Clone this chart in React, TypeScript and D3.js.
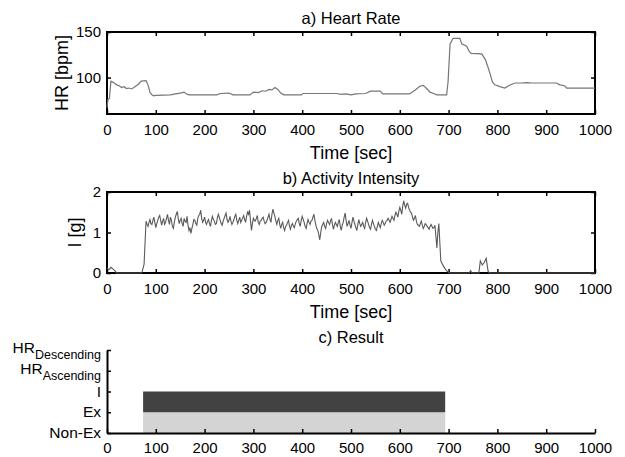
import React, { useRef, useEffect } from 'react';
import * as d3 from 'd3';

// heart rate [sec, bpm], read off panel a)
const hrData: [number, number][] = [
    [0, 67], [2, 76], [5, 77], [8, 96], [12, 95], [16, 93.5], [20, 92], [25, 91], [30, 89],
    [35, 90], [40, 88], [45, 88.5], [50, 87.5], [55, 89], [60, 91], [65, 93], [70, 96],
    [80, 96.5], [84, 92], [88, 84], [92, 81], [96, 80], [100, 80.5], [130, 81], [140, 82],
    [150, 83], [158, 84], [163, 82], [168, 81], [225, 81], [232, 82.5], [250, 83], [258, 81],
    [293, 81], [300, 84], [310, 83.5], [318, 85.5], [325, 85], [332, 87], [338, 86.5],
    [344, 89], [350, 87], [356, 83], [362, 81], [398, 81], [402, 82.5], [470, 82.5],
    [480, 81.5], [490, 82], [500, 81], [510, 82], [530, 82.5], [540, 85], [560, 85],
    [565, 82], [620, 82], [631, 86], [641, 90.5], [648, 91.4], [655, 88], [662, 84],
    [669, 82.5], [676, 81], [696, 81], [699, 96], [703, 137], [709, 143], [723, 143],
    [727, 137], [737, 134.5], [742, 129], [746, 126.5], [768, 126], [775, 120], [781, 111],
    [785, 104], [790, 95], [795, 92], [805, 90], [815, 88.5], [825, 91.5], [836, 94],
    [850, 94], [860, 94.5], [870, 94], [921, 94], [928, 92], [938, 91], [942, 88.5], [1000, 88.5]
];

// activity intensity [g], every 4 sec from 80 to 676 sec
const intensityStart = 80;
const intensityStep = 4;
const intensityActive = [
    1.28, 1.15, 1.32, 1.2, 1.38, 1.12, 1.3, 1.42, 1.18, 1.35, 1.25, 1.45, 1.2, 1.3, 1.1, 1.38, 1.52, 1.22, 1.35, 1.15, 1.28, 1.4, 1.05, 0.98, 1.2,
    1.3, 1.18, 1.42, 1.55, 1.25, 1.38, 1.2, 1.32, 1.15, 1.4, 1.28, 1.22, 1.45, 1.3, 1.18, 1.35, 1.48, 1.25, 1.4, 1.2, 1.32, 1.45, 1.22, 1.38, 1.3,
    1.42, 1.25, 1.5, 1.55, 1.05, 1.35, 1.28, 1.42, 1.2, 1.3, 1.38, 1.22, 1.3, 1.45, 1.25, 1.58, 1.4, 1.2, 1.35, 1.1, 1.25, 1.05, 1.18, 1.3, 1.08,
    1.22, 1.12, 1.28, 1.35, 1.15, 1.4, 1.25, 1.1, 1.32, 1.2, 1.3, 1.45, 1.18, 1.05, 0.82, 1.15, 1.25, 1.1, 1.3, 1.2, 1.35, 1.08, 1.25, 1.15, 1.32,
    1.05, 1.25, 1.48, 1.15, 1.3, 1.1, 1.38, 1.2, 1.05, 1.32, 1.15, 1.25, 1.1, 1.35, 1.2, 1.08, 1.3, 1.15, 1.05, 1.25, 1.12, 1.3, 1.18, 1.28, 1.35,
    1.25, 1.4, 1.3, 1.5, 1.38, 1.62, 1.45, 1.78, 1.6, 1.72, 1.55, 1.48, 1.3, 1.42, 1.2, 1.15, 1.28, 1.1, 1.22, 1.15, 1.08, 1.2, 1.1, 1.18, 0.62
];
// the samples in between, 82 to 678 sec
const intensityActiveMid = [
    1.2, 1.25, 1.22, 1.3, 1.25, 1.22, 1.38, 1.3, 1.28, 1.2, 1.35, 1.3, 1.38, 1.15, 1.25, 1.45, 1.35, 1.3, 1.22, 1.35, 1.25, 1.18, 1.12, 1.1, 1.32,
    1.22, 1.35, 1.45, 1.35, 1.3, 1.25, 1.28, 1.22, 1.3, 1.32, 1.2, 1.35, 1.38, 1.22, 1.28, 1.42, 1.32, 1.3, 1.28, 1.25, 1.4, 1.3, 1.3, 1.25, 1.36,
    1.32, 1.4, 1.45, 1.3, 1.22, 1.3, 1.35, 1.25, 1.28, 1.35, 1.28, 1.25, 1.38, 1.32, 1.45, 1.48, 1.28, 1.3, 1.2, 1.2, 1.12, 1.15, 1.25, 1.15, 1.18,
    1.15, 1.22, 1.32, 1.22, 1.3, 1.32, 1.15, 1.22, 1.25, 1.28, 1.38, 1.3, 1.1, 0.95, 1.0, 1.2, 1.15, 1.22, 1.25, 1.28, 1.2, 1.18, 1.2, 1.25, 1.15,
    1.18, 1.38, 1.3, 1.22, 1.18, 1.25, 1.28, 1.12, 1.2, 1.22, 1.2, 1.15, 1.25, 1.28, 1.12, 1.2, 1.22, 1.08, 1.15, 1.18, 1.22, 1.25, 1.22, 1.3, 1.3,
    1.32, 1.35, 1.42, 1.45, 1.52, 1.55, 1.65, 1.68, 1.7, 1.62, 1.5, 1.38, 1.35, 1.28, 1.18, 1.22, 1.18, 1.15, 1.2, 1.12, 1.15, 1.15, 1.12, 0.9, 1.0
];
// the quiet parts [sec, g]
const intensityRest: [number, number][] = [
    [0, 0.12], [4, 0.08], [8, 0.14], [12, 0.1], [16, 0.06], [20, 0], [70, 0], [72, 0.03], [76, 0.22],
    [680, 1.22], [684, 0.3], [688, 0.2], [692, 0.12], [696, 0.05], [702, 0], [742, 0], [745, 0.06],
    [748, 0], [762, 0], [765, 0.3], [769, 0.2], [773, 0.26], [777, 0.36], [781, 0.04], [784, 0], [1000, 0]
];

const resultLevels = ['Non-Ex', 'Ex', 'I', 'HR|Ascending', 'HR|Descending'];
// detected states: level index the block reaches up to
const resultBlocks = [
    { start: 74, end: 693, level: 1 },
    { start: 74, end: 693, level: 2 }
];

const timeTicks = [0, 100, 200, 300, 400, 500, 600, 700, 800, 900, 1000];
const hrTicks = [100, 150];
const intensityTicks = [0, 1, 2];

const font = '"Liberation Sans", Arial, sans-serif';
const fmt = d3.format('d');

const App = () => {
    const ref = useRef<SVGSVGElement>(null);

    useEffect(() => {
        const svg = d3.select(ref.current);
        svg.selectAll('*').remove();

        const left = 107, right = 595;
        const x = d3.scaleLinear().domain([0, 1000]).range([left, right]);

        const boxPanel = (top: number, bottom: number, y: d3.ScaleLinear<number, number>, yTicks: number[], title: string, titleY: number, ylabel: string, ylabelX: number) => {
            const g = svg.append('g');
            g.append('text').attr('x', (left + right) / 2).attr('y', titleY)
                .attr('text-anchor', 'middle').style('font-size', '16.5px').text(title);

            g.append('g').attr('transform', `translate(0,${bottom})`)
                .call(d3.axisBottom(x).tickValues(timeTicks).tickFormat(fmt).tickSize(-4).tickSizeOuter(0).tickPadding(10));
            g.append('g').attr('transform', `translate(0,${top})`)
                .call(d3.axisTop(x).tickValues(timeTicks).tickSize(-4).tickSizeOuter(0).tickFormat(() => ''));
            g.append('g').attr('transform', `translate(${left},0)`)
                .call(d3.axisLeft(y).tickValues(yTicks).tickFormat(fmt).tickSize(-4).tickSizeOuter(0).tickPadding(6));
            g.append('g').attr('transform', `translate(${right},0)`)
                .call(d3.axisRight(y).tickValues(yTicks).tickSize(-4).tickSizeOuter(0).tickFormat(() => ''));

            g.append('rect').attr('x', left).attr('y', top).attr('width', right - left).attr('height', bottom - top)
                .attr('fill', 'none').attr('stroke', '#000').attr('stroke-width', 2);

            g.append('text').attr('x', (left + right) / 2).attr('y', bottom + 45)
                .attr('text-anchor', 'middle').style('font-size', '18px').text('Time [sec]');
            g.append('text').attr('transform', `translate(${ylabelX},${(top + bottom) / 2}) rotate(-90)`)
                .attr('text-anchor', 'middle').style('font-size', '18px').text(ylabel);
            return g;
        };

        // a) heart rate
        const yHr = d3.scaleLinear().domain([60, 150]).range([114, 32]);
        const gA = boxPanel(32, 114, yHr, hrTicks, 'a) Heart Rate', 24, 'HR [bpm]', 68);
        gA.append('path').datum(hrData)
            .attr('fill', 'none').attr('stroke', '#767676').attr('stroke-width', 1.2)
            .attr('d', d3.line<[number, number]>().x(d => x(d[0])).y(d => yHr(d[1])));

        // b) activity intensity
        const yI = d3.scaleLinear().domain([0, 2]).range([273, 192]);
        const intensity: [number, number][] = intensityActive
            .map((v, i) => [intensityStart + i * intensityStep, v] as [number, number])
            .concat(intensityActiveMid.map((v, i) => [intensityStart + 2 + i * intensityStep, v] as [number, number]))
            .concat(intensityRest)
            .sort((a, b) => a[0] - b[0]);
        const gB = boxPanel(192, 273, yI, intensityTicks, 'b) Activity Intensity', 184, 'I [g]', 81);
        gB.append('path').datum(intensity)
            .attr('fill', 'none').attr('stroke', '#5a5a5a').attr('stroke-width', 1.1)
            .attr('d', d3.line<[number, number]>().x(d => x(d[0])).y(d => yI(d[1])));

        // c) result
        const yR = d3.scalePoint<number>().domain(d3.range(resultLevels.length)).range([433, 350]);
        const gC = svg.append('g');
        gC.append('text').attr('x', (left + right) / 2).attr('y', 343)
            .attr('text-anchor', 'middle').style('font-size', '16.5px').text('c) Result');

        gC.selectAll('rect.block').data(resultBlocks).join('rect')
            .attr('class', 'block')
            .attr('x', d => x(d.start))
            .attr('width', d => x(d.end) - x(d.start))
            .attr('y', d => yR(d.level)!)
            .attr('height', d => yR(d.level - 1)! - yR(d.level)!)
            .attr('fill', d => d.level === 1 ? '#d4d4d4' : '#424242');

        gC.append('g').attr('transform', 'translate(0,433)')
            .call(d3.axisBottom(x).tickValues(timeTicks).tickFormat(fmt).tickSize(-4).tickSizeOuter(0).tickPadding(9))
            .call(a => a.select('.domain').attr('stroke-width', 2));
        gC.append('g').attr('transform', `translate(${left},0)`)
            .call(d3.axisLeft(yR).tickSize(-4).tickSizeOuter(0).tickFormat(() => ''))
            .call(a => a.select('.domain').attr('stroke-width', 2));

        const lab = gC.selectAll('text.lvl').data(resultLevels).join('text')
            .attr('class', 'lvl')
            .attr('x', left - 6)
            .attr('y', (d, i) => yR(i)! + (d.includes('|') ? 3 : 5))
            .attr('text-anchor', 'end')
            .style('font-size', '15.5px');
        lab.each(function (d) {
            const t = d3.select(this);
            const [main, sub] = d.split('|');
            t.append('tspan').text(main);
            if (sub) t.append('tspan').attr('dy', 6).style('font-size', '12.5px').text(sub);
        });

        svg.selectAll('.tick text').style('font-size', '15px').style('font-family', font).attr('fill', '#000');
        svg.selectAll('.tick line').attr('stroke-width', 1.5);
    }, []);

    return (
        <div style={{ position: 'fixed', left: 0, top: 0 }}>
            <svg ref={ref} width={625} height={457} style={{ display: 'block', fontFamily: font, background: '#fff' }} />
        </div>
    );
};

export default App;
